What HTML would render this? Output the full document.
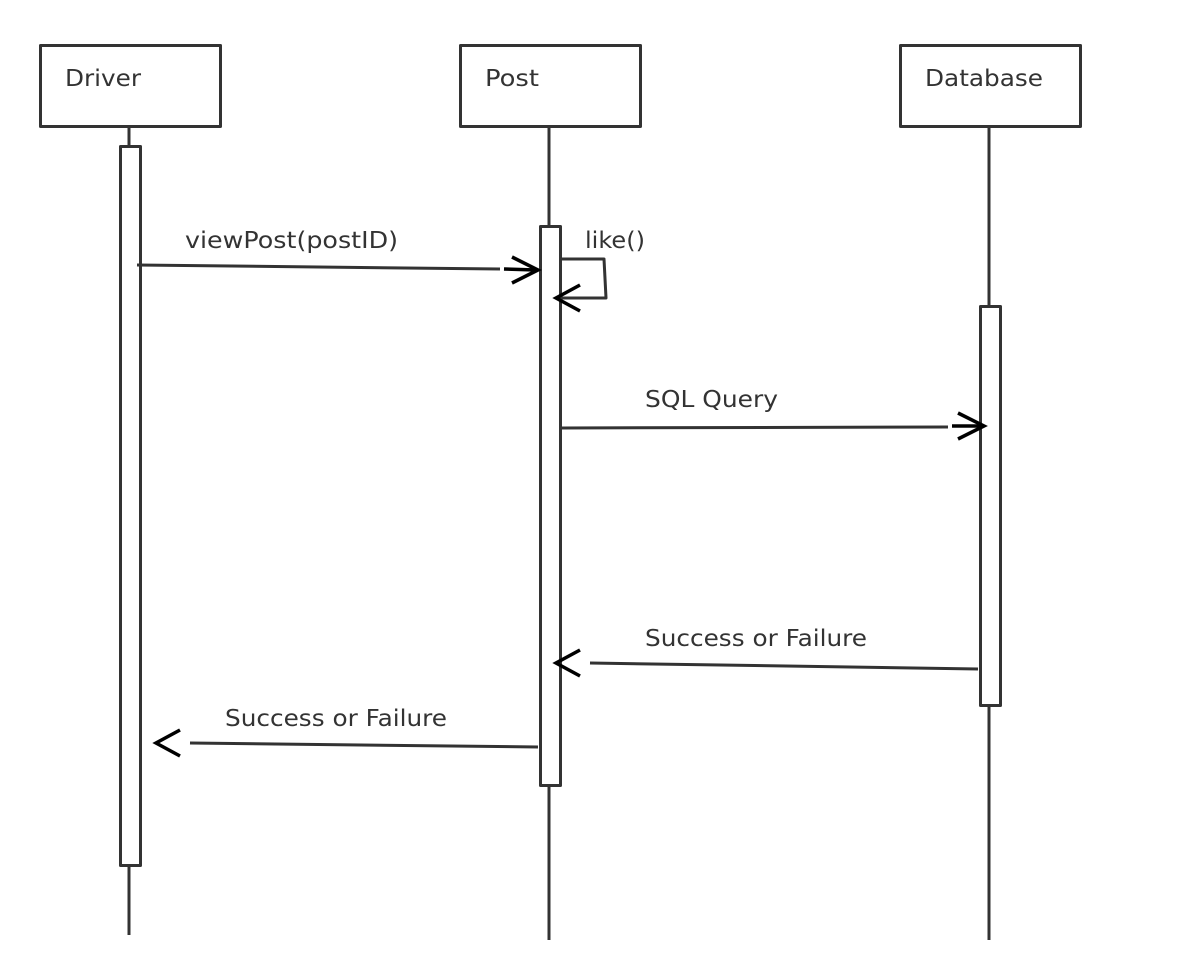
<!DOCTYPE html>
<html><head><style>
body{margin:0;background:#fff;}
</style></head><body>
<svg width="1185" height="980" xmlns="http://www.w3.org/2000/svg" style="display:block">
<g fill="none" stroke="#333" stroke-width="3" stroke-linejoin="round">
<line x1="129" y1="126" x2="129" y2="935"/>
<line x1="549" y1="126" x2="549" y2="940"/>
<line x1="989" y1="126" x2="989" y2="940"/>
<rect x="40.5" y="45.5" width="180" height="81" fill="#fff"/>
<rect x="460.5" y="45.5" width="180" height="81" fill="#fff"/>
<rect x="900.5" y="45.5" width="180" height="81" fill="#fff"/>
<rect x="120.5" y="146.5" width="20" height="719" fill="#fff"/>
<rect x="540.5" y="226.5" width="20" height="559" fill="#fff"/>
<rect x="980.5" y="306.5" width="20" height="399" fill="#fff"/>
<line x1="137" y1="265" x2="500" y2="269"/>
<polyline points="562,259 604,259 606,298 556,298"/>
<line x1="562" y1="428" x2="948" y2="427"/>
<line x1="978" y1="669" x2="590" y2="663"/>
<line x1="538" y1="747" x2="190" y2="743"/>
</g>
<g fill="none" stroke="#000" stroke-width="3.5">
<polyline points="512,257 538,270 512,283"/>
<line x1="504" y1="269" x2="536" y2="270"/>
<polyline points="580,285 556,298 580,311"/>
<polyline points="958,413 984,426 958,439"/>
<line x1="952" y1="426" x2="982" y2="426"/>
<polyline points="580,650 556,663 580,676"/>
<polyline points="180,730 156,743 180,756"/>
</g>
<g font-family="DejaVu Sans, Liberation Sans, sans-serif" font-size="23" fill="#333" lengthAdjust="spacingAndGlyphs">
<text x="65" y="86" textLength="76" lengthAdjust="spacingAndGlyphs">Driver</text>
<text x="485" y="86" textLength="54" lengthAdjust="spacingAndGlyphs">Post</text>
<text x="925" y="86" textLength="118" lengthAdjust="spacingAndGlyphs">Database</text>
<text x="185" y="248" textLength="213" lengthAdjust="spacingAndGlyphs">viewPost(postID)</text>
<text x="585" y="248" textLength="60" lengthAdjust="spacingAndGlyphs">like()</text>
<text x="645" y="407" textLength="133" lengthAdjust="spacingAndGlyphs">SQL Query</text>
<text x="645" y="646" textLength="222" lengthAdjust="spacingAndGlyphs">Success or Failure</text>
<text x="225" y="726" textLength="222" lengthAdjust="spacingAndGlyphs">Success or Failure</text>
</g>
</svg>
</body></html>
